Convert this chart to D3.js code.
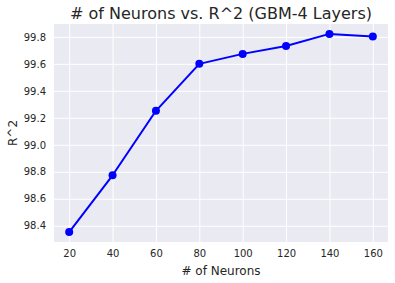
<!DOCTYPE html>
<html lang="en">
<head>
<meta charset="UTF-8">
<script src="https://d3js.org/d3.v7.min.js"></script>
<style>
  body { margin: 0; background: #fff; }
  text { font-family: "DejaVu Sans", sans-serif; fill: #262626; }
</style>
</head>
<body>
<div id="chart"></div>
<script>
// Data
const neurons = [20, 40, 60, 80, 100, 120, 140, 160];
const r2 = [98.353, 98.774, 99.252, 99.600, 99.674, 99.733, 99.822, 99.802];
const xTicks = [20, 40, 60, 80, 100, 120, 140, 160];
const yTicks = [98.4, 98.6, 98.8, 99.0, 99.2, 99.4, 99.6, 99.8];

const W = 395, H = 283;
const margin = {top: 24, right: 7, bottom: 41, left: 54};
const width = W - margin.left - margin.right,
      height = H - margin.top - margin.bottom;

const svg = d3.select("#chart").append("svg")
    .attr("width", W).attr("height", H);

const g = svg.append("g")
    .attr("transform", `translate(${margin.left},${margin.top})`);

// matplotlib-style 5% margins
const xPad = (d3.max(neurons) - d3.min(neurons)) * 0.05;
const yPad = (d3.max(r2) - d3.min(r2)) * 0.05;
const x = d3.scaleLinear()
    .domain([d3.min(neurons) - xPad, d3.max(neurons) + xPad])
    .range([0, width]);
const y = d3.scaleLinear()
    .domain([d3.min(r2) - yPad, d3.max(r2) + yPad])
    .range([height, 0]);

g.append("rect")
    .attr("width", width).attr("height", height)
    .attr("fill", "#EAEAF2");

// grid
const xAxis = g.append("g")
    .attr("transform", `translate(0,${height})`)
    .call(d3.axisBottom(x).tickValues(xTicks).tickSize(-height).tickPadding(8).tickFormat(d3.format("d")));
const yAxis = g.append("g")
    .call(d3.axisLeft(y).tickValues(yTicks).tickSize(-width).tickPadding(8).tickFormat(d3.format(".1f")));

[xAxis, yAxis].forEach(a => {
  a.select(".domain").remove();
  a.selectAll(".tick line").attr("stroke", "#fff").attr("stroke-width", 1);
  a.selectAll(".tick text")
    .attr("font-size", 10)
    .attr("font-family", "DejaVu Sans, sans-serif")
    .attr("fill", "#262626");
});

// line
g.append("path")
    .datum(neurons.map((n, i) => [n, r2[i]]))
    .attr("fill", "none")
    .attr("stroke", "#0000FF")
    .attr("stroke-width", 2)
    .attr("stroke-linejoin", "round")
    .attr("d", d3.line().x(d => x(d[0])).y(d => y(d[1])));

g.selectAll(".pt")
    .data(neurons.map((n, i) => [n, r2[i]]))
    .enter().append("circle")
    .attr("class", "pt")
    .attr("cx", d => x(d[0]))
    .attr("cy", d => y(d[1]))
    .attr("r", 4)
    .attr("fill", "#0000FF");

// labels
svg.append("text")
    .attr("x", margin.left + width / 2)
    .attr("y", 19)
    .attr("text-anchor", "middle")
    .attr("font-size", 16)
    .text("# of Neurons vs. R^2 (GBM-4 Layers)");

svg.append("text")
    .attr("x", margin.left + width / 2)
    .attr("y", 275)
    .attr("text-anchor", "middle")
    .attr("font-size", 12)
    .text("# of Neurons");

svg.append("text")
    .attr("transform", `translate(17,${margin.top + height / 2}) rotate(-90)`)
    .attr("text-anchor", "middle")
    .attr("font-size", 12)
    .text("R^2");
</script>
</body>
</html>
